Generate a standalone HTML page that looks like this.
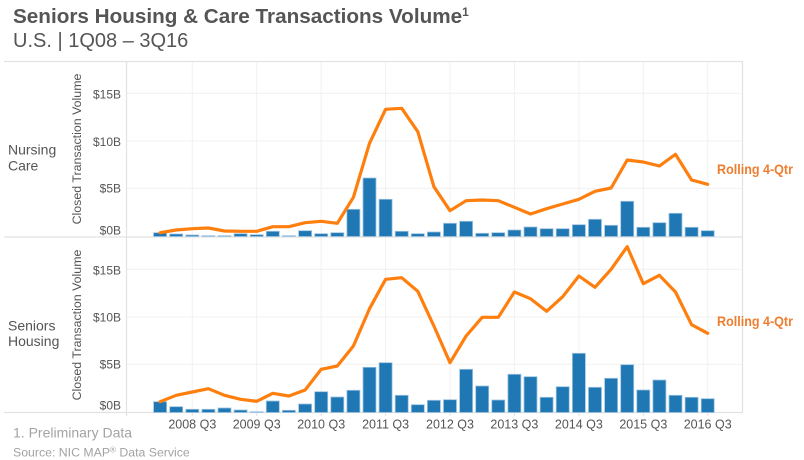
<!DOCTYPE html>
<html><head><meta charset="utf-8"><style>
html,body{margin:0;padding:0;background:#fff;}
svg{display:block;font-family:"Liberation Sans",Arial,sans-serif;}
</style></head><body>
<svg width="804" height="460" viewBox="0 0 804 460" xmlns="http://www.w3.org/2000/svg">
<rect width="804" height="460" fill="#fff"/>
<!-- title -->
<text x="13" y="23" font-size="20.7" font-weight="bold" fill="#555">Seniors Housing &amp; Care Transactions Volume<tspan font-size="12" dy="-7">1</tspan></text>
<text x="13" y="47" font-size="20" fill="#555">U.S. | 1Q08 – 3Q16</text>

<!-- gridlines -->
<g stroke="#f1f1f1" stroke-width="1">
<line x1="127" y1="93.3" x2="742" y2="93.3"/>
<line x1="127" y1="141" x2="742" y2="141"/>
<line x1="127" y1="188.3" x2="742" y2="188.3"/>
<line x1="127" y1="269.3" x2="742" y2="269.3"/>
<line x1="127" y1="317" x2="742" y2="317"/>
<line x1="127" y1="364.3" x2="742" y2="364.3"/>
<line x1="192.3" y1="62" x2="192.3" y2="412"/>
<line x1="256.7" y1="62" x2="256.7" y2="412"/>
<line x1="321.2" y1="62" x2="321.2" y2="412"/>
<line x1="385.6" y1="62" x2="385.6" y2="412"/>
<line x1="450" y1="62" x2="450" y2="412"/>
<line x1="514.4" y1="62" x2="514.4" y2="412"/>
<line x1="578.9" y1="62" x2="578.9" y2="412"/>
<line x1="643.3" y1="62" x2="643.3" y2="412"/>
<line x1="707.7" y1="62" x2="707.7" y2="412"/>
</g>
<!-- borders -->
<g stroke="#e2e2e2" stroke-width="1.2">
<line x1="4" y1="61.5" x2="743" y2="61.5"/>
<line x1="4" y1="237" x2="743" y2="237"/>
<line x1="4" y1="412.5" x2="743" y2="412.5"/>
<line x1="126.5" y1="61" x2="126.5" y2="416"/>
<line x1="742.5" y1="61" x2="742.5" y2="412.5"/>
</g>
<g stroke="#e2e2e2" stroke-width="1">
<line x1="192.3" y1="412.5" x2="192.3" y2="416"/>
<line x1="256.7" y1="412.5" x2="256.7" y2="416"/>
<line x1="321.2" y1="412.5" x2="321.2" y2="416"/>
<line x1="385.6" y1="412.5" x2="385.6" y2="416"/>
<line x1="450" y1="412.5" x2="450" y2="416"/>
<line x1="514.4" y1="412.5" x2="514.4" y2="416"/>
<line x1="578.9" y1="412.5" x2="578.9" y2="416"/>
<line x1="643.3" y1="412.5" x2="643.3" y2="416"/>
<line x1="707.7" y1="412.5" x2="707.7" y2="416"/>
</g>

<!-- top bars -->
<g fill="#1f77b4" stroke="#9cc3e2" stroke-width="0.8">
<rect x="153.6" y="232.7" width="13" height="3.8"/>
<rect x="169.7" y="234" width="13" height="2.5"/>
<rect x="185.8" y="235" width="13" height="1.5"/>
<rect x="201.9" y="235.7" width="13" height="0.8"/>
<rect x="218" y="235.7" width="13" height="0.8"/>
<rect x="234.1" y="233.7" width="13" height="2.8"/>
<rect x="250.2" y="234.7" width="13" height="1.8"/>
<rect x="266.3" y="231.3" width="13" height="5.2"/>
<rect x="282.4" y="235.7" width="13" height="0.8"/>
<rect x="298.6" y="230.7" width="13" height="5.8"/>
<rect x="314.7" y="233.7" width="13" height="2.8"/>
<rect x="330.8" y="232.7" width="13" height="3.8"/>
<rect x="346.9" y="209.3" width="13" height="27.2"/>
<rect x="363" y="178" width="13" height="58.5"/>
<rect x="379.1" y="199.3" width="13" height="37.2"/>
<rect x="395.2" y="231.3" width="13" height="5.2"/>
<rect x="411.3" y="233.7" width="13" height="2.8"/>
<rect x="427.4" y="232" width="13" height="4.5"/>
<rect x="443.5" y="223.3" width="13" height="13.2"/>
<rect x="459.6" y="221.3" width="13" height="15.2"/>
<rect x="475.7" y="233.3" width="13" height="3.2"/>
<rect x="491.8" y="232.7" width="13" height="3.8"/>
<rect x="507.9" y="230" width="13" height="6.5"/>
<rect x="524" y="227" width="13" height="9.5"/>
<rect x="540.1" y="228.7" width="13" height="7.8"/>
<rect x="556.2" y="228.7" width="13" height="7.8"/>
<rect x="572.4" y="224.7" width="13" height="11.8"/>
<rect x="588.5" y="219.3" width="13" height="17.2"/>
<rect x="604.6" y="225.3" width="13" height="11.2"/>
<rect x="620.7" y="201.3" width="13" height="35.2"/>
<rect x="636.8" y="227.3" width="13" height="9.2"/>
<rect x="652.9" y="222.7" width="13" height="13.8"/>
<rect x="669" y="213.3" width="13" height="23.2"/>
<rect x="685.1" y="227.3" width="13" height="9.2"/>
<rect x="701.2" y="230.7" width="13" height="5.8"/>
</g>
<!-- top line -->
<polyline fill="none" stroke="#ff7f0e" stroke-width="3.2" stroke-linejoin="round" stroke-linecap="round" points="160.1,232.7 176.2,230 192.3,228.7 208.4,228 224.5,231 240.6,231.3 256.7,231.3 272.8,226.7 288.9,226.7 305.1,222.7 321.2,221.3 337.3,223.3 353.4,197.3 369.5,143.3 385.6,109.3 401.7,108.3 417.8,131.7 433.9,186.7 450,210.7 466.1,200.7 482.2,200 498.3,200.7 514.4,207.3 530.5,214 546.6,208.7 562.7,204 578.9,199.3 595,191.3 611.1,188 627.2,160 643.3,162 659.4,166 675.5,154.3 691.6,180 707.7,184.3"/>

<!-- bottom bars -->
<g fill="#1f77b4" stroke="#9cc3e2" stroke-width="0.8">
<rect x="153.6" y="401.7" width="13" height="10.8"/>
<rect x="169.7" y="406.7" width="13" height="5.8"/>
<rect x="185.8" y="409.3" width="13" height="3.2"/>
<rect x="201.9" y="409.3" width="13" height="3.2"/>
<rect x="218" y="408" width="13" height="4.5"/>
<rect x="234.1" y="410" width="13" height="2.5"/>
<rect x="250.2" y="411.7" width="13" height="0.8"/>
<rect x="266.3" y="401" width="13" height="11.5"/>
<rect x="282.4" y="410.3" width="13" height="2.2"/>
<rect x="298.6" y="404" width="13" height="8.5"/>
<rect x="314.7" y="391.7" width="13" height="20.8"/>
<rect x="330.8" y="397" width="13" height="15.5"/>
<rect x="346.9" y="390.3" width="13" height="22.2"/>
<rect x="363" y="367.3" width="13" height="45.2"/>
<rect x="379.1" y="362.7" width="13" height="49.8"/>
<rect x="395.2" y="395.3" width="13" height="17.2"/>
<rect x="411.3" y="404.7" width="13" height="7.8"/>
<rect x="427.4" y="400.3" width="13" height="12.2"/>
<rect x="443.5" y="399.7" width="13" height="12.8"/>
<rect x="459.6" y="369.3" width="13" height="43.2"/>
<rect x="475.7" y="386" width="13" height="26.5"/>
<rect x="491.8" y="400" width="13" height="12.5"/>
<rect x="507.9" y="374.3" width="13" height="38.2"/>
<rect x="524" y="376.7" width="13" height="35.8"/>
<rect x="540.1" y="397.3" width="13" height="15.2"/>
<rect x="556.2" y="386.7" width="13" height="25.8"/>
<rect x="572.4" y="353.3" width="13" height="59.2"/>
<rect x="588.5" y="387.3" width="13" height="25.2"/>
<rect x="604.6" y="378.3" width="13" height="34.2"/>
<rect x="620.7" y="364.7" width="13" height="47.8"/>
<rect x="636.8" y="390" width="13" height="22.5"/>
<rect x="652.9" y="380" width="13" height="32.5"/>
<rect x="669" y="395.3" width="13" height="17.2"/>
<rect x="685.1" y="397.3" width="13" height="15.2"/>
<rect x="701.2" y="398.7" width="13" height="13.8"/>
</g>
<!-- bottom line -->
<polyline fill="none" stroke="#ff7f0e" stroke-width="3.2" stroke-linejoin="round" stroke-linecap="round" points="160.1,401.7 176.2,395.3 192.3,392 208.4,388.7 224.5,395.3 240.6,399.3 256.7,401.3 272.8,393.3 288.9,396 305.1,390 321.2,369.3 337.3,366 353.4,346 369.5,308.7 385.6,279.3 401.7,277.7 417.8,291.3 433.9,326 450,362.7 466.1,336 482.2,317.3 498.3,317.3 514.4,292 530.5,298.7 546.6,311.3 562.7,296.7 578.9,276 595,287.3 611.1,269.3 627.2,246.7 643.3,283.7 659.4,275.3 675.5,292 691.6,324.7 707.7,333.3"/>

<!-- row labels -->
<g font-size="14" fill="#555">
<text x="8" y="154.5">Nursing</text>
<text x="8" y="170.5">Care</text>
<text x="8" y="330.3">Seniors</text>
<text x="8" y="346">Housing</text>
</g>
<!-- axis titles -->
<g font-size="12.4" fill="#555" text-anchor="middle">
<text transform="translate(81,149) rotate(-90)">Closed Transaction Volume</text>
<text transform="translate(81,325) rotate(-90)">Closed Transaction Volume</text>
</g>
<!-- tick labels -->
<g font-size="12" fill="#555" text-anchor="end">
<text x="121" y="98.3">$15B</text>
<text x="121" y="146">$10B</text>
<text x="121" y="192.7">$5B</text>
<text x="121" y="234.3">$0B</text>
<text x="121" y="274.3">$15B</text>
<text x="121" y="321.7">$10B</text>
<text x="121" y="368.7">$5B</text>
<text x="121" y="409.7">$0B</text>
</g>
<!-- x labels -->
<g font-size="12.5" fill="#555" text-anchor="middle">
<text x="192.3" y="428.5">2008 Q3</text>
<text x="256.7" y="428.5">2009 Q3</text>
<text x="321.2" y="428.5">2010 Q3</text>
<text x="385.6" y="428.5">2011 Q3</text>
<text x="450" y="428.5">2012 Q3</text>
<text x="514.4" y="428.5">2013 Q3</text>
<text x="578.9" y="428.5">2014 Q3</text>
<text x="643.3" y="428.5">2015 Q3</text>
<text x="707.7" y="428.5">2016 Q3</text>
</g>
<!-- rolling labels -->
<g font-size="14" font-weight="bold" fill="#ee7d2f">
<text x="717" y="174" textLength="76" lengthAdjust="spacingAndGlyphs">Rolling 4-Qtr</text>
<text x="717" y="326" textLength="76" lengthAdjust="spacingAndGlyphs">Rolling 4-Qtr</text>
</g>
<!-- footnotes -->
<text x="13" y="437.3" font-size="14" fill="#a3a3a3">1. Preliminary Data</text>
<text x="13" y="456.7" font-size="12.3" fill="#a3a3a3">Source: NIC MAP<tspan font-size="8" dy="-4">®</tspan><tspan dy="4"> Data Service</tspan></text>
</svg>
</body></html>
